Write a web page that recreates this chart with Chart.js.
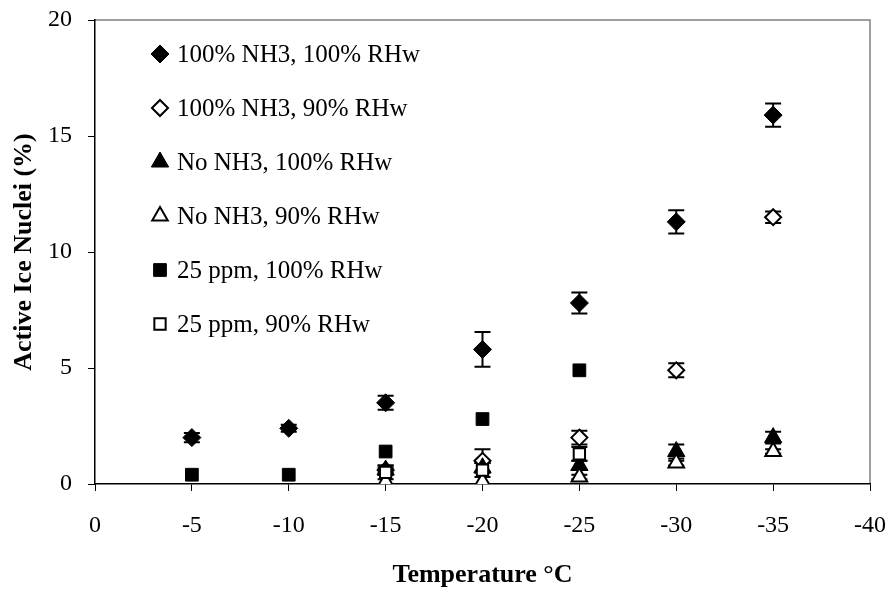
<!DOCTYPE html>
<html>
<head>
<meta charset="utf-8">
<script src="https://cdn.jsdelivr.net/npm/chart.js@4.4.1/dist/chart.umd.min.js"></script>
<style>
  html, body { margin: 0; padding: 0; background: #fff; }
  #wrap { width: 889px; height: 592px; }
</style>
</head>
<body>
<div id="wrap"><canvas id="iceChart" width="889" height="592"></canvas></div>
<script>
// temperatures (deg C)
const temps = [-5, -10, -15, -20, -25, -30, -35];

// active ice nuclei (%) per series, null = no point
const nh3Rh100 = [2.0, 2.4, 3.5, 5.8, 7.8, 11.3, 15.9];
const nh3Rh90 = [null, null, 0.6, 1.0, 2.0, 4.9, 11.5];
const noNh3Rh100 = [null, null, 0.6, 0.7, 0.8, 1.4, 2.0];
const noNh3Rh90 = [null, null, 0.1, 0.1, 0.3, 0.9, 1.4];
const ppm25Rh100 = [0.4, 0.4, 1.4, 2.8, 4.9, null, null];
const ppm25Rh90 = [null, null, 0.5, 0.6, 1.3, null, null];

// error bars (+/-)
const nh3Rh100Err = [0.2, 0.15, 0.3, 0.75, 0.45, 0.5, 0.5];
const nh3Rh90Err = [0, 0, 0.2, 0.5, 0.3, 0.3, 0.25];
const noNh3Rh100Err = [0, 0, 0.1, 0.2, 0.2, 0.3, 0.25];
const noNh3Rh90Err = [0, 0, 0, 0, 0.1, 0.1, 0.1];
const ppm25Rh100Err = [0, 0, 0, 0, 0, 0, 0];
const ppm25Rh90Err = [0, 0, 0.3, 0.3, 0.3, 0, 0];

const labels = ['100% NH3, 100% RHw', '100% NH3, 90% RHw', 'No NH3, 100% RHw',
                'No NH3, 90% RHw', '25 ppm, 100% RHw', '25 ppm, 90% RHw'];

const xTicks = [0, -5, -10, -15, -20, -25, -30, -35, -40];
const yTicks = [0, 5, 10, 15, 20];

const serif = "'Liberation Serif', 'Times New Roman', serif";

function points(vals, errs) {
    return temps.map((t, i) => vals[i] === null ? null : { x: t, y: vals[i], err: errs[i] })
        .filter(p => p !== null);
}

function series(i, vals, errs, style, filled, radius) {
    return {
        label: labels[i],
        data: points(vals, errs),
        pointStyle: style,
        pointRadius: radius,
        pointHoverRadius: radius,
        pointBackgroundColor: filled ? '#000' : '#fff',
        pointBorderColor: '#000',
        pointBorderWidth: filled ? 1 : 2,
        showLine: false,
        order: 6 - i
    };
}

const errorBars = {
    id: 'errorBars',
    beforeDatasetsDraw(chart) {
        const ctx = chart.ctx;
        const ys = chart.scales.y;
        ctx.save();
        ctx.strokeStyle = '#000';
        ctx.lineWidth = 2;
        chart.data.datasets.forEach((ds, di) => {
            const meta = chart.getDatasetMeta(di);
            ds.data.forEach((p, j) => {
                if (!p.err) return;
                const px = meta.data[j].x;
                const top = ys.getPixelForValue(p.y + p.err);
                const bot = ys.getPixelForValue(p.y - p.err);
                ctx.beginPath();
                ctx.moveTo(px, top); ctx.lineTo(px, bot);
                ctx.moveTo(px - 8, top); ctx.lineTo(px + 8, top);
                ctx.moveTo(px - 8, bot); ctx.lineTo(px + 8, bot);
                ctx.stroke();
            });
        });
        ctx.restore();
    }
};

const frameAndLegend = {
    id: 'frameAndLegend',
    beforeDraw(chart) {
        const a = chart.chartArea;
        const ctx = chart.ctx;
        ctx.save();
        ctx.strokeStyle = '#808080';
        ctx.lineWidth = 1.5;
        ctx.beginPath();
        ctx.moveTo(a.left, a.top); ctx.lineTo(a.right, a.top); ctx.lineTo(a.right, a.bottom);
        ctx.stroke();
        ctx.restore();
    },
    afterDraw(chart) {
        const ctx = chart.ctx;
        chart.data.datasets.forEach((ds, i) => {
            const y = 54 + i * 54;
            ctx.save();
            ctx.fillStyle = ds.pointBackgroundColor;
            ctx.strokeStyle = '#000';
            ctx.lineWidth = ds.pointBorderWidth;
            Chart.helpers.drawPoint(ctx, {
                pointStyle: ds.pointStyle,
                radius: ds.pointRadius,
                borderWidth: ds.pointBorderWidth
            }, 160, y);
            ctx.font = '25px ' + serif;
            ctx.textBaseline = 'middle';
            ctx.fillStyle = '#000';
            ctx.fillText(ds.label, 177, y + 1);
            ctx.restore();
        });
    }
};

const ctx = document.getElementById('iceChart').getContext('2d');
new Chart(ctx, {
    type: 'scatter',
    data: {
        datasets: [
            series(0, nh3Rh100, nh3Rh100Err, 'rectRot', true, 9),
            series(1, nh3Rh90, nh3Rh90Err, 'rectRot', false, 8),
            series(2, noNh3Rh100, noNh3Rh100Err, 'triangle', true, 10),
            series(3, noNh3Rh90, noNh3Rh90Err, 'triangle', false, 9),
            series(4, ppm25Rh100, ppm25Rh100Err, 'rect', true, 9),
            series(5, ppm25Rh90, ppm25Rh90Err, 'rect', false, 8)
        ]
    },
    options: {
        responsive: false,
        animation: false,
        layout: { padding: { left: 7, top: 20, right: 19, bottom: 0 } },
        plugins: {
            legend: { display: false },
            tooltip: { enabled: false }
        },
        scales: {
            x: {
                type: 'linear',
                reverse: true,
                min: -40,
                max: 0,
                afterBuildTicks(scale) { scale.ticks = xTicks.map(v => ({ value: v })); },
                afterFit(scale) {
                    scale.height = 108;
                    scale.paddingLeft = 0;
                    scale.paddingRight = 0;
                },
                grid: { display: true, drawOnChartArea: false, tickLength: 7, color: '#000', tickColor: '#000' },
                border: { display: true, color: '#000', width: 1.5 },
                ticks: { color: '#000', font: { family: serif, size: 24 }, padding: 20 },
                title: {
                    display: true,
                    text: 'Temperature °C',
                    color: '#000',
                    font: { family: serif, size: 26, weight: 'bold' },
                    padding: { top: 4, bottom: 1 }
                }
            },
            y: {
                min: 0,
                max: 20,
                afterBuildTicks(scale) { scale.ticks = yTicks.map(v => ({ value: v })); },
                afterFit(scale) {
                    scale.width = 88;
                    scale.paddingTop = 0;
                    scale.paddingBottom = 0;
                },
                grid: { display: true, drawOnChartArea: false, tickLength: 7, color: '#000', tickColor: '#000' },
                border: { display: true, color: '#000', width: 1.5 },
                ticks: { color: '#000', font: { family: serif, size: 24 }, padding: 16 },
                title: {
                    display: true,
                    text: 'Active Ice Nuclei (%)',
                    color: '#000',
                    font: { family: serif, size: 26, weight: 'bold' },
                    padding: { top: 2, bottom: 4 }
                }
            }
        }
    },
    plugins: [errorBars, frameAndLegend]
});
</script>
</body>
</html>
